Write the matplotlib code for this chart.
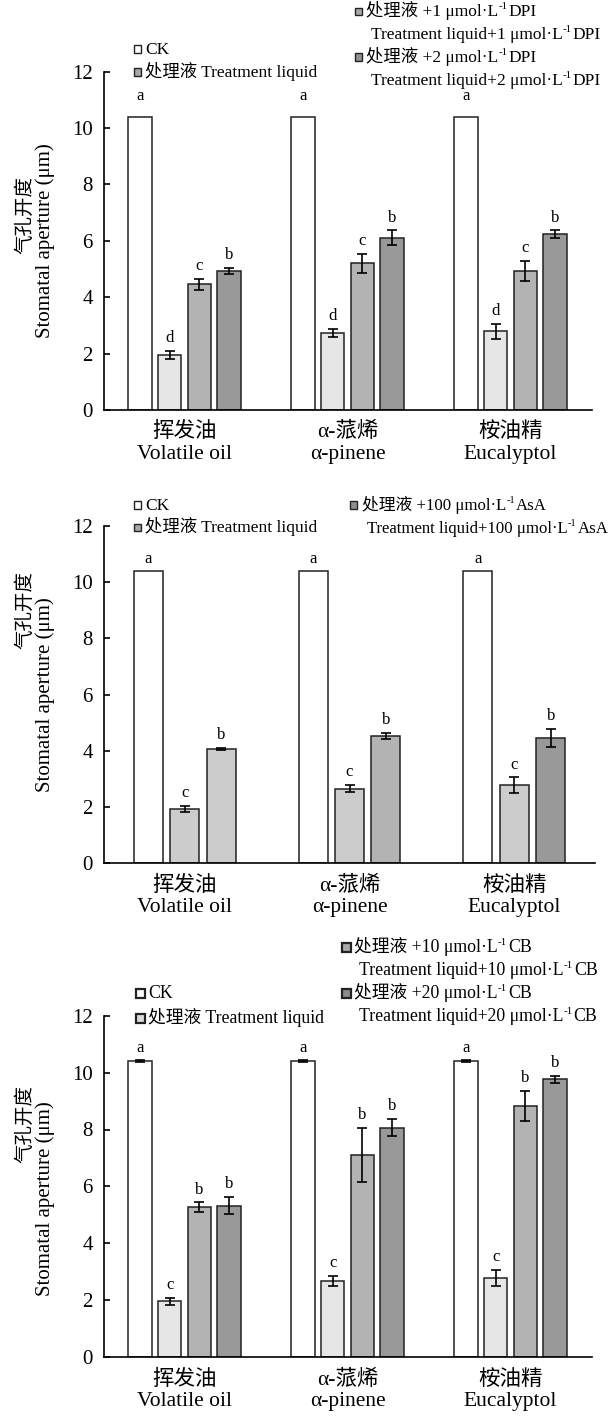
import re
import matplotlib.pyplot as plt
from matplotlib.patches import Rectangle
import numpy as np

plt.rcParams['font.family'] = ['Liberation Serif', 'Noto Sans CJK SC', 'DejaVu Sans']

W, H = 616, 1417

groups_cn = ['挥发油', 'α-蒎烯', '桉油精']
groups_en = ['Volatile oil', 'α-pinene', 'Eucalyptol']

# panel 1: DPI
ck_1 = [10.4, 10.4, 10.4]
trt_1 = [1.95, 2.72, 2.79]
trt_1_err = [0.14, 0.14, 0.27]
dpi_low = [4.46, 5.20, 4.93]
dpi_low_err = [0.20, 0.34, 0.35]
dpi_high = [4.94, 6.11, 6.24]
dpi_high_err = [0.10, 0.26, 0.13]

# panel 2: AsA
ck_2 = [10.4, 10.4, 10.4]
trt_2 = [1.94, 2.66, 2.79]
trt_2_err = [0.12, 0.13, 0.27]
asa = [4.06, 4.54, 4.46]
asa_err = [0.04, 0.10, 0.33]

# panel 3: CB
ck_3 = [10.4, 10.4, 10.4]
ck_3_err = [0.04, 0.04, 0.04]
trt_3 = [1.97, 2.67, 2.79]
trt_3_err = [0.13, 0.18, 0.29]
cb_low = [5.27, 7.11, 8.83]
cb_low_err = [0.17, 0.95, 0.53]
cb_high = [5.33, 8.06, 9.77]
cb_high_err = [0.30, 0.30, 0.12]

zero = [0, 0, 0]


def px(x, y):
    return x / W, 1 - y / H


def make_axes(left, right, top, bottom):
    x0, y0 = px(left, bottom)
    return fig.add_axes([x0, y0, (right - left) / W, (bottom - top) / H])


def draw_panel(ax, series, step, width, ck_pad):
    n = len(series)
    offsets = (np.arange(n) - (n - 1) / 2) * step
    xs = np.arange(3)
    for k, (vals, errs, color, letter) in enumerate(series):
        colors = color if isinstance(color, list) else [color] * 3
        x = xs + offsets[k]
        ax.bar(x, vals, width, color=colors, edgecolor='#222222', linewidth=1.1, zorder=2)
        if any(e > 0 for e in errs):
            ax.errorbar(x, vals, yerr=errs, fmt='none', ecolor='black', elinewidth=1.2,
                        capsize=3.5, capthick=1.2, zorder=3)
        for xi, v, e in zip(x, vals, errs):
            pad = ck_pad if k == 0 else 3.5
            ax.annotate(letter, (xi, v + e), xytext=(0, pad), textcoords='offset points',
                        ha='center', va='bottom', fontsize=12)
    ax.set_ylim(0, 12)
    ax.set_yticks(range(0, 13, 2))
    ax.set_xlim(-0.494, 2.5)
    ax.set_xticks([])
    for s in ['top', 'right']:
        ax.spines[s].set_visible(False)
    for s in ['left', 'bottom']:
        ax.spines[s].set_linewidth(1.2)
    ax.tick_params(axis='y', direction='in', length=4, width=1.2, labelsize=15, pad=8)
    for i in range(3):
        ax.annotate(groups_cn[i], (i, 0), xycoords=('data', 'axes fraction'),
                    xytext=(0, -16), textcoords='offset points', ha='center', va='center',
                    fontsize=15.5)
        ax.annotate(groups_en[i], (i, 0), xycoords=('data', 'axes fraction'),
                    xytext=(0, -32), textcoords='offset points', ha='center', va='center',
                    fontsize=15.5)


def ylabel(top, bottom, cn_shift, en_shift):
    mid = (top + bottom) / 2
    fig.text(*px(25, mid + cn_shift), '气孔开度', rotation=90, ha='center', va='center',
             fontsize=14)
    fig.text(*px(45, mid + en_shift), 'Stomatal aperture (μm)', rotation=90, ha='center',
             va='center', fontsize=15)


def rich_line(x, y, label, fs):
    # draws "a^{b}c" with small raised superscripts, left edge x, baseline y (pixels)
    renderer = fig.canvas.get_renderer()
    pieces = re.split(r'\^\{(.*?)\}', label)
    cx = x
    for i, s in enumerate(pieces):
        if not s:
            continue
        sup = i % 2 == 1
        size = fs * 0.62 if sup else fs
        lift = fs * 0.55 if sup else 0
        t = fig.text(*px(cx, y - lift), s, ha='left', va='baseline', fontsize=size)
        cx += t.get_window_extent(renderer).width + (1 if sup else 0)


def legend_item(x, y, color, lines, size=7, fs=12.5, lw=1.0):
    sx, sy = px(x - size / 2, y + size / 2)
    fig.add_artist(Rectangle((sx, sy), size / W, size / H, transform=fig.transFigure,
                             facecolor=color, edgecolor='#222222', linewidth=lw))
    rich_line(x + 8, y + 5, lines[0], fs)
    if len(lines) > 1:
        rich_line(x + 13, y + 28, lines[1], fs)


fig = plt.figure(figsize=(W / 100, H / 100), dpi=100)

# panel 1
ax1 = make_axes(104, 592, 71.6, 410)
draw_panel(ax1, [(ck_1, zero, 'white', 'a'),
                 (trt_1, trt_1_err, '#e6e6e6', 'd'),
                 (dpi_low, dpi_low_err, '#b3b3b3', 'c'),
                 (dpi_high, dpi_high_err, '#999999', 'b')],
           0.1816, 0.144, 9)
ylabel(71.6, 410, -26, 0)
legend_item(137, 49, 'white', ['CK'])
legend_item(137, 72, '#a8a8a8', ['处理液 Treatment liquid'])
legend_item(358, 11, '#a8a8a8', ['处理液 +1 μmol·L^{-1}DPI', 'Treatment liquid+1 μmol·L^{-1}DPI'])
legend_item(358, 57, '#909090', ['处理液 +2 μmol·L^{-1}DPI', 'Treatment liquid+2 μmol·L^{-1}DPI'])

# panel 2
ax2 = make_axes(104, 595, 526, 863.5)
draw_panel(ax2, [(ck_2, zero, 'white', 'a'),
                 (trt_2, trt_2_err, '#cccccc', 'c'),
                 (asa, asa_err, ['#cccccc', '#b3b3b3', '#999999'], 'b')],
           0.221, 0.175, 3)
ax2.set_xlim(-0.49, 2.49)
ylabel(526, 863.5, -85, 0)
legend_item(137, 505, 'white', ['CK'])
legend_item(137, 527, '#a8a8a8', ['处理液 Treatment liquid'])
legend_item(354, 505, '#909090', ['处理液 +100 μmol·L^{-1}AsA',
                                  'Treatment liquid+100 μmol·L^{-1}AsA'], fs=12.1)

# panel 3
ax3 = make_axes(104, 592, 1015.6, 1357.3)
draw_panel(ax3, [(ck_3, ck_3_err, 'white', 'a'),
                 (trt_3, trt_3_err, '#e6e6e6', 'c'),
                 (cb_low, cb_low_err, '#b3b3b3', 'b'),
                 (cb_high, cb_high_err, '#999999', 'b')],
           0.1816, 0.144, 3)
ylabel(1015.6, 1357.3, -62, 12)
legend_item(140, 993, 'white', ['CK'], size=9, fs=12.8, lw=1.6)
legend_item(140, 1018, '#dddddd', ['处理液 Treatment liquid'], size=9, fs=12.8, lw=1.6)
legend_item(346, 947, '#aaaaaa', ['处理液 +10 μmol·L^{-1}CB', 'Treatment liquid+10 μmol·L^{-1}CB'],
            size=9, fs=12.8, lw=1.6)
legend_item(346, 993, '#8c8c8c', ['处理液 +20 μmol·L^{-1}CB', 'Treatment liquid+20 μmol·L^{-1}CB'],
            size=9, fs=12.8, lw=1.6)

fig.savefig('out.png', dpi=100)
